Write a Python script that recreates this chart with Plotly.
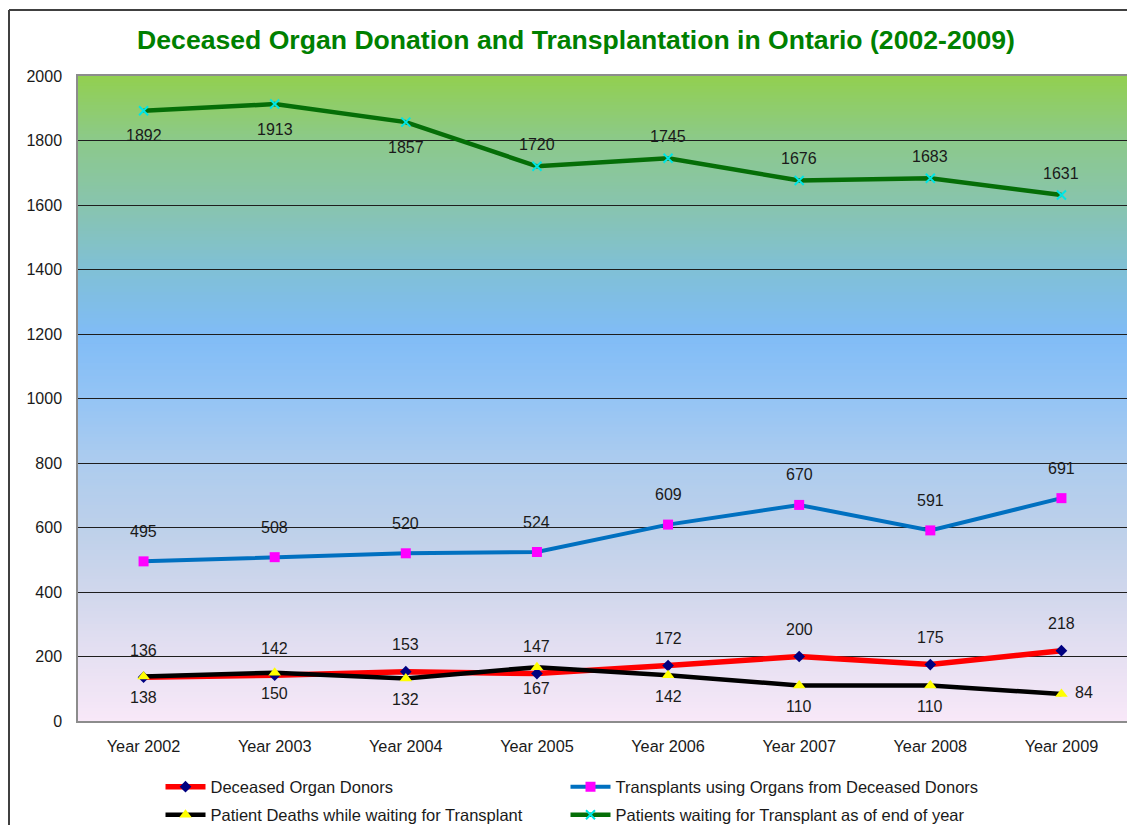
import plotly.graph_objects as go

years = ["Year 2002", "Year 2003", "Year 2004", "Year 2005",
         "Year 2006", "Year 2007", "Year 2008", "Year 2009"]
donors = [136, 142, 153, 147, 172, 200, 175, 218]
transplants = [495, 508, 520, 524, 609, 670, 591, 691]
deaths = [138, 150, 132, 167, 142, 110, 110, 84]
waiting = [1892, 1913, 1857, 1720, 1745, 1676, 1683, 1631]
y_ticks = [0, 200, 400, 600, 800, 1000, 1200, 1400, 1600, 1800, 2000]

FONT = "Liberation Sans, Arial, sans-serif"
TXT = "#1a1a1a"

W, H = 1127, 817
ML, MR, MT, MB = 70, 8, 68, 104
PW, PH = W - ML - MR, H - MT - MB

fig = go.Figure()

series = [
    ("Deceased Organ Donors", donors, "#FF0000", 5.5, "diamond", "#000080", 9, None, "legend"),
    ("Transplants using Organs from Deceased Donors", transplants, "#0070C0", 4, "square", "#FF00FF", 10, None, "legend3"),
    ("Patient Deaths while waiting for Transplant", deaths, "#000000", 4.5, "triangle-up", "#FFFF00", 11, None, "legend2"),
    ("Patients waiting for Transplant as of end of year", waiting, "#056E07", 4.5, "x-thin", "#00FFFF", 9, "#00E5E5", "legend4"),
]
for name, vals, lc, lw, sym, mc, ms, mlc, lg in series:
    marker = dict(symbol=sym, color=mc, size=ms)
    marker["line"] = dict(color=mlc, width=2) if mlc else dict(width=0)
    fig.add_trace(go.Scatter(x=years, y=vals, name=name, mode="lines+markers",
                             line=dict(color=lc, width=lw), marker=marker, legend=lg))

# data labels
def add_labels(vals, shifts, xshifts=None):
    for i, v in enumerate(vals):
        fig.add_annotation(x=years[i], y=v, text=str(v), showarrow=False,
                           yshift=shifts[i], xshift=(xshifts[i] if xshifts else 0),
                           font=dict(family=FONT, size=16, color=TXT))

n = len(years)
add_labels(donors, [27] * n)
add_labels(transplants, [30] * n)
add_labels(deaths, [-21] * (n - 1) + [1], [0] * (n - 1) + [23])
add_labels(waiting, [-25, -25, -25, 22, 22, 22, 22, 22])

# vertical gradient background (decoration)
stops = [(0, (248, 232, 248)), (200, (230, 224, 242)), (400, (208, 215, 236)),
         (600, (189, 208, 234)), (800, (173, 204, 238)), (1000, (148, 196, 245)),
         (1200, (128, 188, 246)), (1400, (128, 192, 214)), (1600, (136, 196, 174)),
         (1800, (140, 201, 138)), (2000, (146, 208, 80))]

def col_at(v):
    for (a, ca), (b, cb) in zip(stops[:-1], stops[1:]):
        if a <= v <= b:
            t = (v - a) / (b - a)
            c = [round(ca[k] + (cb[k] - ca[k]) * t) for k in range(3)]
            return "rgb(%d,%d,%d)" % tuple(c)
    return "rgb(%d,%d,%d)" % stops[-1][1]

step = 10
for y0 in range(0, 2000, step):
    fig.add_shape(type="rect", xref="paper", yref="y", x0=0, x1=1, y0=y0,
                  y1=min(y0 + step + 6, 2000),
                  fillcolor=col_at(y0 + step / 2), line=dict(width=0), layer="below")

# outer frame (top and left edges)
fx = (1 - ML) / PW
fy = (H - MB - 2) / PH
fig.add_shape(type="line", xref="paper", yref="paper", x0=fx, x1=1.2, y0=fy, y1=fy,
              line=dict(color="#404040", width=2))
fig.add_shape(type="line", xref="paper", yref="paper", x0=fx, x1=fx, y0=fy, y1=-0.3,
              line=dict(color="#404040", width=2))

leg_common = dict(orientation="h", xanchor="left", yanchor="middle",
                  font=dict(family=FONT, size=16.5, color=TXT), itemwidth=40,
                  bgcolor="rgba(0,0,0,0)")
lx1 = (152.5 - ML) / PW
lx2 = (557.5 - ML) / PW
ly1 = (H - MB - 779) / PH
ly2 = (H - MB - 807) / PH

fig.update_layout(
    width=W, height=H,
    margin=dict(l=ML, r=MR, t=MT, b=MB, autoexpand=False),
    paper_bgcolor="white", plot_bgcolor="white",
    font=dict(family=FONT, size=15, color=TXT),
    title=dict(text="<b>Deceased Organ Donation and Transplantation in Ontario (2002-2009)</b>",
               x=568 / W, xanchor="center", xref="container",
               y=1 - 32 / H, yanchor="middle", yref="container",
               font=dict(family=FONT, size=26.6, color="#008000")),
    showlegend=True,
    legend=dict(x=lx1, y=ly1, **leg_common),
    legend2=dict(x=lx1, y=ly2, **leg_common),
    legend3=dict(x=lx2, y=ly1, **leg_common),
    legend4=dict(x=lx2, y=ly2, **leg_common),
    xaxis=dict(type="category", range=[-0.5, 7.5], showgrid=False, zeroline=False,
               showline=True, linecolor="#8c8c8c", linewidth=1.5, mirror=True,
               ticks="", ticklabelstandoff=10,
               tickfont=dict(family=FONT, size=16.3, color=TXT)),
    yaxis=dict(range=[0, 2000], tickvals=y_ticks, ticktext=[str(v) for v in y_ticks],
               showgrid=True, gridcolor="#1e1e1e", gridwidth=1.2, zeroline=False,
               showline=True, linecolor="#8c8c8c", linewidth=1.5, mirror=True,
               ticks="", ticklabelstandoff=11,
               tickfont=dict(family=FONT, size=16, color=TXT)),
)

fig.write_html("out.html")
